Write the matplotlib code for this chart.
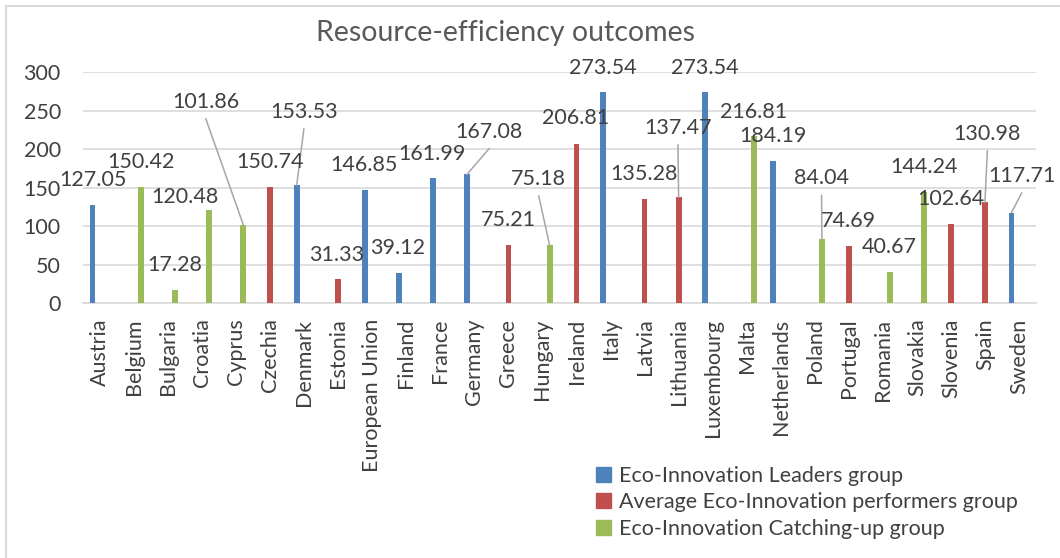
import matplotlib
matplotlib.use('Agg')
import matplotlib.pyplot as plt
from matplotlib.lines import Line2D
import numpy as np

BLUE = '#4F81BD'; RED = '#C0504D'; GREEN = '#9BBB59'
INK = '#404040'; GRID = '#D9D9D9'
plt.rcParams.update({'font.family': ['Lato', 'DejaVu Sans'], 'text.color': INK,
                     'xtick.color': INK, 'ytick.color': INK})

countries = ['Austria', 'Belgium', 'Bulgaria', 'Croatia', 'Cyprus', 'Czechia', 'Denmark',
             'Estonia', 'European Union', 'Finland', 'France', 'Germany', 'Greece', 'Hungary',
             'Ireland', 'Italy', 'Latvia', 'Lithuania', 'Luxembourg', 'Malta', 'Netherlands',
             'Poland', 'Portugal', 'Romania', 'Slovakia', 'Slovenia', 'Spain', 'Sweden']
values = [127.05, 150.42, 17.28, 120.48, 101.86, 150.74, 153.53,
          31.33, 146.85, 39.12, 161.99, 167.08, 75.21, 75.18,
          206.81, 273.54, 135.28, 137.47, 273.54, 216.81, 184.19,
          84.04, 74.69, 40.67, 144.24, 102.64, 130.98, 117.71]
# 0 = leaders, 1 = average performers, 2 = catching-up
group = [0, 2, 2, 2, 2, 1, 0,
         1, 0, 0, 0, 0, 1, 2,
         1, 0, 1, 1, 0, 2, 0,
         2, 1, 2, 2, 1, 1, 0]
group_names = ['Eco-Innovation Leaders group',
               'Average Eco-Innovation performers group',
               'Eco-Innovation Catching-up group']

# where the data labels sit (x in category units, y in data units)
label_x = [-0.22, 1.20, 2.20, 2.50, 3.11, 4.99, 5.99, 6.96, 7.77, 8.75, 9.75, 11.43, 11.99, 12.89,
           13.98, 14.76, 15.98, 16.98, 17.76, 19.21, 19.76, 21.20, 21.99, 23.19, 24.21, 25.00, 26.07, 27.08]
label_y = [159.9, 183.0, 49.7, 137.9, 261.1, 183.0, 248.1, 62.6, 179.4, 71.7, 193.6, 222.6, 108.0, 161.2,
           240.3, 305.2, 167.7, 227.4, 305.2, 248.5, 217.0, 162.1, 107.1, 73.4, 177.2, 134.9, 219.6, 165.1]
leaders = [4, 6, 11, 13, 17, 21, 26, 27]

colors = [BLUE, RED, GREEN]
offsets = [-0.22, 0.0, 0.21]

fig = plt.figure(figsize=(10.6, 5.58), dpi=100)
ax = fig.add_axes([83/1060, 1-303.3/558, 953/1060, 231.3/558])

x = np.arange(len(countries))
for g in range(3):
    vals = np.array([v if gr == g else 0 for v, gr in zip(values, group)])
    ax.bar(x + offsets[g], vals, width=0.17, color=colors[g], zorder=3)

for i, v in enumerate(values):
    ax.text(label_x[i], label_y[i], f'{v:.2f}', ha='center', va='center', fontsize=15.5, color=INK, zorder=5)
    if i in leaders:
        bx = i + offsets[group[i]]
        ax.plot([label_x[i], bx], [label_y[i] - 22, v], color='#A6A6A6', lw=1.1, zorder=4)

ax.set_xlim(-0.5, len(countries) - 0.5)
ax.set_ylim(0, 300)
ax.set_yticks(range(0, 301, 50))
ax.set_xticks(x)
ax.set_xticklabels(countries, rotation=90, fontsize=15.5)
ax.tick_params(axis='y', length=0, pad=16, labelsize=15.5)
ax.tick_params(axis='x', length=0, pad=11)
ax.grid(axis='y', color=GRID, lw=1.2, zorder=0)
for s in ['top', 'right', 'left']:
    ax.spines[s].set_visible(False)
ax.spines['bottom'].set_color(GRID); ax.spines['bottom'].set_linewidth(1.2)

fig.text(506/1060, 1-41/558, 'Resource-efficiency outcomes', ha='center', va='baseline',
         fontsize=20.5, color='#595959')

handles = [plt.Rectangle((0, 0), 1, 1, color=c) for c in colors]
fig.legend(handles, group_names, loc='upper left', bbox_to_anchor=(585/1060, 1-455/558),
           frameon=False, fontsize=15.5, handlelength=0.7, handleheight=0.7, handletextpad=0.4,
           labelspacing=0.3, borderpad=0, labelcolor=INK)

# chart border
fig.add_artist(Line2D([6/1060, 1], [1-6/558, 1-6/558], color=GRID, lw=1.5))
fig.add_artist(Line2D([6/1060, 6/1060], [0, 1-6/558], color=GRID, lw=1.5))

fig.savefig('out.png', dpi=100, facecolor='white')
